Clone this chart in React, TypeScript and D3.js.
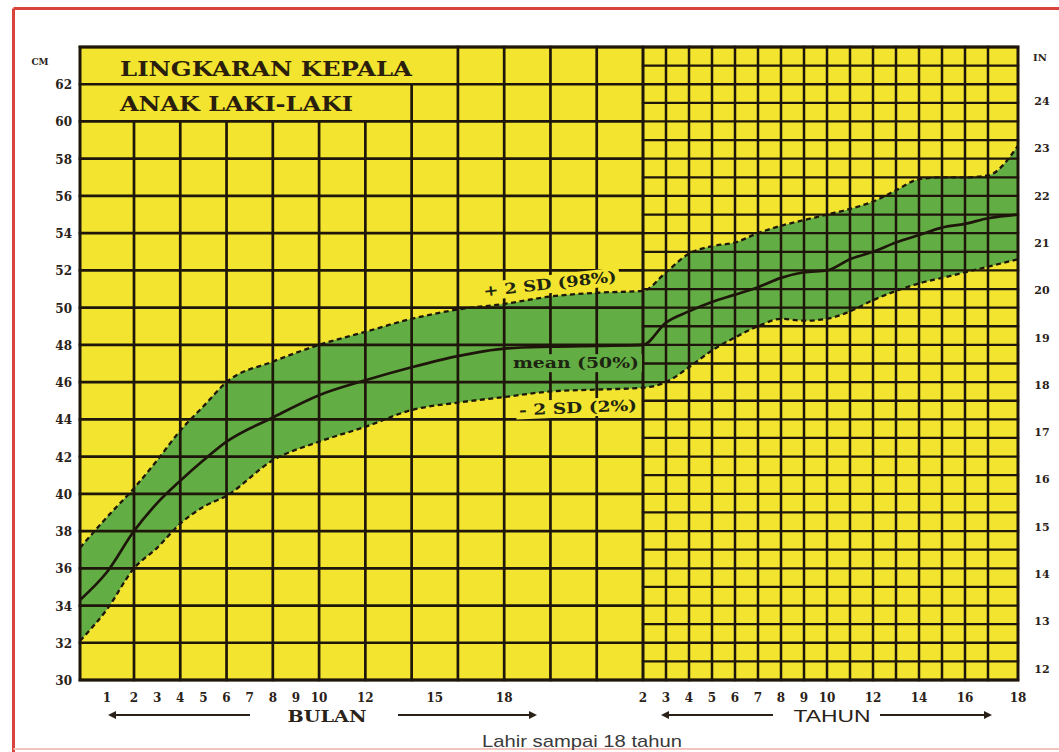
import React, { useRef, useEffect } from 'react';
import * as d3 from 'd3';

// umur dalam bulan (0-24 bulan, lalu 3-18 tahun)
const ageMonths = [0, 1, 2, 3, 4, 5, 6, 8, 10, 12, 14, 16, 18, 20, 22, 24, 36, 48, 60, 72, 84, 96, 108, 120, 132, 144, 156, 168, 180, 192, 204, 216];
// lingkar kepala (cm)
const meanCm = [34.3, 35.8, 38.0, 39.5, 40.7, 41.8, 42.8, 44.1, 45.3, 46.1, 46.8, 47.4, 47.8, 47.9, 47.95, 48.0, 49.2, 49.8, 50.3, 50.7, 51.1, 51.6, 51.9, 52.0, 52.6, 53.0, 53.5, 53.9, 54.3, 54.5, 54.8, 55.0];
const upperCm = [37.1, 38.75, 40.3, 41.8, 43.4, 44.7, 46.0, 47.1, 48.0, 48.7, 49.4, 49.9, 50.2, 50.6, 50.8, 50.9, 51.9, 52.9, 53.3, 53.5, 54.0, 54.4, 54.7, 55.0, 55.3, 55.7, 56.3, 56.9, 57.0, 57.0, 57.1, 58.7];
const lowerCm = [32.1, 33.8, 36.0, 37.1, 38.4, 39.3, 39.9, 41.8, 42.8, 43.6, 44.5, 44.9, 45.2, 45.5, 45.6, 45.7, 46.0, 46.8, 47.7, 48.4, 49.0, 49.4, 49.3, 49.4, 49.8, 50.4, 50.9, 51.3, 51.6, 51.9, 52.2, 52.6];

const monthTicks = [1, 2, 3, 4, 5, 6, 7, 8, 9, 10, 12, 15, 18];
const yearTicks = [2, 3, 4, 5, 6, 7, 8, 9, 10, 12, 14, 16, 18];
const cmTicks = [30, 32, 34, 36, 38, 40, 42, 44, 46, 48, 50, 52, 54, 56, 58, 60, 62];
const inchTicks = [12, 13, 14, 15, 16, 17, 18, 19, 20, 21, 22, 23, 24];
const gridMonths = [2, 4, 6, 8, 10, 12, 14, 16, 18, 20, 22];
const gridYears = [3, 4, 5, 6, 7, 8, 9, 10, 11, 12, 13, 14, 15, 16, 17];

const WIDTH = 1059;
const HEIGHT = 752;
const YELLOW = '#f3e42f';
const GREEN = '#62ad44';
const INK = '#1e160a';
const SERIF = '"DejaVu Serif", "Liberation Serif", serif';
const SANS = '"Liberation Sans", Arial, sans-serif';

function drawChart(svgEle: SVGSVGElement) {
  const svg = d3.select(svgEle);
  svg.selectAll('*').remove();

  const x = d3.scaleLinear().domain([0, 2, 24, 204, 216]).range([80, 134, 643, 988, 1018]);
  const y = d3.scaleLinear().domain([30, 64]).range([680, 47]);
  const yIn = d3.scaleLinear().domain([30 / 2.54, 64 / 2.54]).range([680, 47]);

  svg.append('rect').attr('width', WIDTH).attr('height', HEIGHT).attr('fill', 'white');

  // bingkai merah
  svg.append('line').attr('x1', 13.5).attr('y1', 8.5).attr('x2', WIDTH).attr('y2', 8.5)
    .attr('stroke', '#d8433c').attr('stroke-width', 3);
  svg.append('line').attr('x1', 13.5).attr('y1', 8.5).attr('x2', 13.5).attr('y2', HEIGHT)
    .attr('stroke', '#d8433c').attr('stroke-width', 3);
  svg.append('line').attr('x1', 13.5).attr('y1', 749).attr('x2', WIDTH).attr('y2', 749)
    .attr('stroke', '#f3c4bd').attr('stroke-width', 2);

  // latar kuning
  svg.append('rect')
    .attr('x', x(0)).attr('y', y(64))
    .attr('width', x(216) - x(0)).attr('height', y(30) - y(64))
    .attr('fill', YELLOW);

  const points = ageMonths.map((m, i) => ({ m, mean: meanCm[i], up: upperCm[i], lo: lowerCm[i] }));

  // pita hijau antara -2 SD dan +2 SD
  const area = d3.area<typeof points[0]>()
    .x((d) => x(d.m))
    .y0((d) => y(d.lo))
    .y1((d) => y(d.up))
    .curve(d3.curveMonotoneX);
  svg.append('path').datum(points).attr('d', area).attr('fill', GREEN);

  const grid = svg.append('g').attr('stroke', INK).attr('stroke-linecap', 'square');

  // garis horizontal: tiap 2 cm di bagian bulan, tiap 1 cm di bagian tahun
  grid.selectAll('line.hl')
    .data(d3.range(30, 65, 2))
    .enter()
    .append('line')
    .attr('x1', x(0)).attr('x2', x(24))
    .attr('y1', (d) => y(d)).attr('y2', (d) => y(d))
    .attr('stroke-width', 2.7);
  grid.selectAll('line.hr')
    .data(d3.range(30, 65, 1))
    .enter()
    .append('line')
    .attr('x1', x(24)).attr('x2', x(216))
    .attr('y1', (d) => y(d)).attr('y2', (d) => y(d))
    .attr('stroke-width', 2.3);

  // garis vertikal; judul menutupi bagian atas sebelah kiri
  const topFor = (px: number) => (px < 390 ? y(60) : px < 435 ? y(62) : y(64));
  grid.selectAll('line.vl')
    .data(gridMonths)
    .enter()
    .append('line')
    .attr('x1', (d) => x(d)).attr('x2', (d) => x(d))
    .attr('y1', (d) => topFor(x(d))).attr('y2', y(30))
    .attr('stroke-width', 2.7);
  grid.selectAll('line.vr')
    .data(gridYears)
    .enter()
    .append('line')
    .attr('x1', (d) => x(d * 12)).attr('x2', (d) => x(d * 12))
    .attr('y1', y(64)).attr('y2', y(30))
    .attr('stroke-width', 2.5);

  // bingkai plot
  svg.append('rect')
    .attr('x', x(0)).attr('y', y(64))
    .attr('width', x(216) - x(0)).attr('height', y(30) - y(64))
    .attr('fill', 'none').attr('stroke', INK).attr('stroke-width', 3);
  svg.append('line')
    .attr('x1', x(24)).attr('x2', x(24)).attr('y1', y(64)).attr('y2', y(30))
    .attr('stroke', INK).attr('stroke-width', 3);

  // kurva
  const line = (key: 'mean' | 'up' | 'lo') =>
    d3.line<typeof points[0]>()
      .x((d) => x(d.m))
      .y((d) => y(d[key]))
      .curve(d3.curveMonotoneX);
  svg.append('path').datum(points).attr('d', line('up'))
    .attr('fill', 'none').attr('stroke', INK).attr('stroke-width', 2.3).attr('stroke-dasharray', '5,3.5');
  svg.append('path').datum(points).attr('d', line('lo'))
    .attr('fill', 'none').attr('stroke', INK).attr('stroke-width', 2.3).attr('stroke-dasharray', '5,3.5');
  svg.append('path').datum(points).attr('d', line('mean'))
    .attr('fill', 'none').attr('stroke', INK).attr('stroke-width', 2.7);

  // label kurva dengan latar
  const note = (label: string, m: number, cm: number, angle: number, bg: string, len: number) => {
    const g = svg.append('g').attr('transform', `translate(${x(m)},${y(cm)}) rotate(${angle})`);
    const rect = g.append('rect').attr('fill', bg);
    const t = g.append('text')
      .attr('text-anchor', 'middle')
      .attr('font-family', SERIF).attr('font-weight', 'bold').attr('font-size', 15)
      .attr('fill', '#1d2410')
      .attr('textLength', len).attr('lengthAdjust', 'spacingAndGlyphs')
      .text(label);
    const b = (t.node() as SVGTextElement).getBBox();
    rect.attr('x', b.x - 3).attr('y', b.y).attr('width', b.width + 6).attr('height', b.height);
  };
  note('+ 2 SD (98%)', 20, 51.0, -6.5, YELLOW, 134);
  note('mean (50%)', 21.1, 46.75, 0, GREEN, 126);
  note('- 2 SD (2%)', 21.2, 44.35, -2.5, YELLOW, 118);

  // judul
  svg.append('text').attr('x', 120).attr('y', 76)
    .attr('font-family', SERIF).attr('font-weight', 'bold').attr('font-size', 20)
    .attr('fill', '#2a1e0c').attr('textLength', 292).attr('lengthAdjust', 'spacingAndGlyphs')
    .text('LINGKARAN KEPALA');
  svg.append('text').attr('x', 120).attr('y', 111)
    .attr('font-family', SERIF).attr('font-weight', 'bold').attr('font-size', 20)
    .attr('fill', '#2a1e0c').attr('textLength', 233).attr('lengthAdjust', 'spacingAndGlyphs')
    .text('ANAK LAKI-LAKI');

  const tickText = (sel: d3.Selection<SVGTextElement, number, SVGGElement, unknown>) =>
    sel.attr('font-family', SERIF).attr('font-weight', 'bold').attr('fill', '#2a2218')
      .attr('dominant-baseline', 'central');

  // sumbu kiri (cm)
  const left = svg.append('g');
  left.selectAll('text').data(cmTicks).enter().append('text')
    .call(tickText)
    .attr('x', 72).attr('y', (d) => y(d) + 1)
    .attr('text-anchor', 'end').attr('font-size', 12)
    .text((d) => d);
  svg.append('text').attr('x', 40).attr('y', 62).attr('text-anchor', 'middle')
    .attr('dominant-baseline', 'central')
    .attr('font-family', SERIF).attr('font-weight', 'bold').attr('font-size', 9).attr('fill', '#2a2218')
    .text('CM');

  // sumbu kanan (inci)
  const right = svg.append('g');
  right.selectAll('text').data(inchTicks).enter().append('text')
    .call(tickText)
    .attr('x', 1042).attr('y', (d) => yIn(d) - 2)
    .attr('text-anchor', 'middle').attr('font-size', 11)
    .text((d) => d);
  svg.append('text').attr('x', 1040).attr('y', 57).attr('text-anchor', 'middle')
    .attr('dominant-baseline', 'central')
    .attr('font-family', SERIF).attr('font-weight', 'bold').attr('font-size', 10).attr('fill', '#2a2218')
    .text('IN');

  // sumbu bawah
  const bottom = svg.append('g');
  bottom.selectAll('text.m').data(monthTicks).enter().append('text')
    .call(tickText)
    .attr('x', (d) => x(d)).attr('y', 698)
    .attr('text-anchor', 'middle').attr('font-size', 12)
    .text((d) => d);
  const bottomYears = svg.append('g');
  bottomYears.selectAll('text').data(yearTicks).enter().append('text')
    .call(tickText)
    .attr('x', (d) => x(d * 12)).attr('y', 698)
    .attr('text-anchor', 'middle').attr('font-size', 12)
    .text((d) => d);

  // panah BULAN dan TAHUN
  const arrow = (x1: number, x2: number, head: 'left' | 'right') => {
    const ay = 715;
    svg.append('line').attr('x1', x1).attr('x2', x2).attr('y1', ay).attr('y2', ay)
      .attr('stroke', '#2a2218').attr('stroke-width', 2);
    const hx = head === 'left' ? x1 : x2;
    const dir = head === 'left' ? -1 : 1;
    svg.append('path')
      .attr('d', `M${hx + dir * 4},${ay} L${hx - dir * 4},${ay - 4} L${hx - dir * 4},${ay + 4} Z`)
      .attr('fill', '#2a2218');
  };
  arrow(112, 250, 'left');
  arrow(398, 533, 'right');
  arrow(665, 773, 'left');
  arrow(880, 988, 'right');

  svg.append('text').attr('x', 327).attr('y', 722).attr('text-anchor', 'middle')
    .attr('font-family', SERIF).attr('font-weight', 'bold').attr('font-size', 17)
    .attr('fill', '#2a2218').attr('textLength', 79).attr('lengthAdjust', 'spacingAndGlyphs')
    .text('BULAN');
  svg.append('text').attr('x', 832).attr('y', 722).attr('text-anchor', 'middle')
    .attr('font-family', SANS).attr('font-size', 17)
    .attr('fill', '#2a2218').attr('textLength', 77).attr('lengthAdjust', 'spacingAndGlyphs')
    .text('TAHUN');

  svg.append('text').attr('x', 582).attr('y', 747).attr('text-anchor', 'middle')
    .attr('font-family', SANS).attr('font-size', 17)
    .attr('fill', '#3a3a3a').attr('textLength', 200).attr('lengthAdjust', 'spacingAndGlyphs')
    .text('Lahir sampai 18 tahun');
}

export default function App(): JSX.Element {
  const svgRef = useRef<SVGSVGElement>(null);

  useEffect(() => {
    const svgEle = svgRef.current;
    if (svgEle == null) {
      return;
    }
    drawChart(svgEle);
  }, []);

  return (
    <div style={{ position: 'absolute', left: 0, top: 0, width: WIDTH, height: HEIGHT }}>
      <svg ref={svgRef} width={WIDTH} height={HEIGHT} style={{ display: 'block' }} />
    </div>
  );
}
